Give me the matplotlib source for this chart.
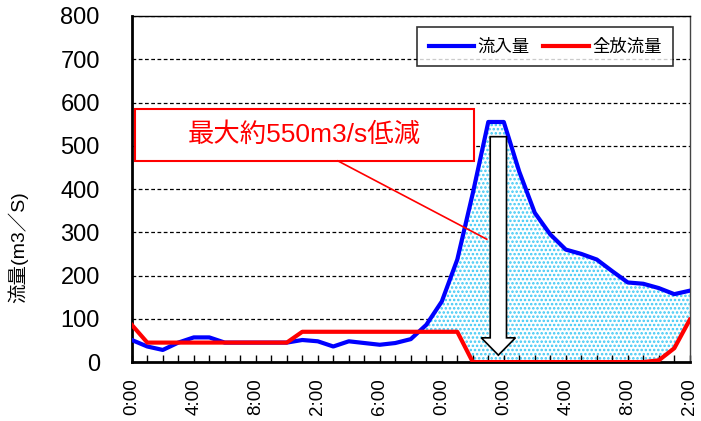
import numpy as np
import matplotlib
matplotlib.use('Agg')
import matplotlib.pyplot as plt
from matplotlib.patches import Rectangle, FancyArrow

plt.rcParams['font.family'] = ['Liberation Sans', 'Noto Sans CJK JP']
plt.rcParams['hatch.linewidth'] = 1.2

# horas desde el inicio (cada hora un punto)
horas = np.arange(0, 37)
# caudal de entrada (azul)
inflow = [51, 36, 28, 45, 57, 57, 45, 45, 45, 45, 45, 51, 48, 36, 48, 44, 40, 44, 53,
          86, 140, 237, 390, 555, 555, 440, 345, 295, 260, 250, 237, 210, 184, 181,
          171, 157, 165]
# caudal de descarga total (rojo)
outflow = [86, 45, 45, 45, 45, 45, 45, 45, 45, 45, 45, 70, 70, 70, 70, 70, 70, 70, 70,
           70, 70, 70, 0, 0, 0, 0, 0, 0, 0, 0, 0, 0, 0, 0, 4, 32, 98]
tick_pos = [0, 4, 8, 12, 16, 20, 24, 28, 32, 36]
tick_labels = ['0:00', '4:00', '8:00', '2:00', '6:00', '0:00', '0:00', '4:00', '8:00', '2:00']
y_ticks = [0, 100, 200, 300, 400, 500, 600, 700, 800]

fig = plt.figure(figsize=(7.01, 4.21), dpi=100)
ax = fig.add_axes([0.188, 0.140, 0.796, 0.822])

inflow_a = np.array(inflow)
outflow_a = np.array(outflow)

# zona rellenada (reduccion)
ax.fill_between(horas, outflow_a, inflow_a, where=(horas >= 18) & (inflow_a > outflow_a),
                interpolate=True, facecolor='white', edgecolor='#3cc8f5', hatch='....',
                linewidth=0, zorder=1)

for v in y_ticks[1:]:
    ax.axhline(v, color='black', linestyle=(0, (3, 2)), linewidth=0.9, zorder=0.5)

ax.plot(horas, inflow, color='#0000ff', linewidth=3, label='流入量', zorder=3)
ax.plot(horas, outflow, color='#ff0000', linewidth=3, label='全放流量', zorder=4)

# flecha de reduccion
ax.add_patch(FancyArrow(23.65, 521, 0, -505, width=1.05, head_width=2.2, head_length=40,
                        length_includes_head=True, facecolor='white', edgecolor='black',
                        linewidth=1.2, zorder=5))

# recuadro de texto
ax.add_patch(Rectangle((0.2, 465), 21.9, 121, facecolor='white', edgecolor='#ff0000',
                       linewidth=1.5, zorder=6))
ax.text(11.1, 525, '最大約550m3/s低減', color='#ff0000', fontsize=19,
        ha='center', va='center', zorder=7)
ax.plot([13.3, 22.9], [465, 284], color='#ff0000', linewidth=1.2, zorder=6)

ax.set_xlim(0, 36)
ax.set_ylim(0, 800)
ax.set_yticks(y_ticks)
ax.set_yticklabels([str(v) for v in y_ticks], fontsize=17)
ax.set_xticks(tick_pos)
ax.set_xticklabels(tick_labels, rotation=90, fontsize=13.5)
ax.set_xticks(horas, minor=True)
ax.tick_params(axis='x', which='both', direction='in', length=5, width=1, pad=11.5)
ax.tick_params(axis='y', length=0, pad=23)
ax.set_ylabel('流量(m3／S)', fontsize=14)
ax.yaxis.set_label_coords(-0.186, 0.332)

for s in ['left', 'bottom']:
    ax.spines[s].set_linewidth(2)
ax.spines['right'].set_linewidth(1)
ax.spines['right'].set_color('#444444')
ax.spines['top'].set_linewidth(1)

leg = ax.legend(loc='upper right', bbox_to_anchor=(0.9695, 0.968), ncol=2, fontsize=12.5,
                frameon=True, fancybox=False, edgecolor='black', handlelength=2.6,
                columnspacing=0.8, handletextpad=0.2, borderpad=0.65, borderaxespad=0)
leg.get_frame().set_linewidth(1.2)
leg.set_zorder(8)

fig.savefig('out.png', dpi=100)
